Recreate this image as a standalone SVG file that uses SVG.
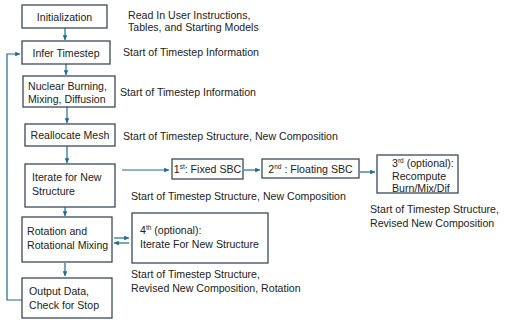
<svg xmlns="http://www.w3.org/2000/svg" width="510" height="320" viewBox="0 0 510 320">
<defs>
<marker id="ah" viewBox="0 0 6 6" refX="6" refY="3" markerWidth="4" markerHeight="4" orient="auto">
<path d="M0,0 L6,3 L0,6 z" fill="#1f6b94"/>
</marker>
<style>
.box{fill:#fff;stroke:#3b4a5a;stroke-width:1.3}
.t{font-family:"Liberation Sans",Arial,sans-serif;font-size:10.6px;fill:#222}
.c{text-anchor:middle}
.s{font-size:6.5px}
.ln{fill:none;stroke:#1f6b94;stroke-width:1.2}
.a{marker-end:url(#ah)}
</style>
</defs>
<rect width="510" height="320" fill="#fff"/>
<g id="connectors">
<line class="ln a" x1="65" y1="28" x2="65" y2="40"/>
<line class="ln a" x1="66" y1="64" x2="66" y2="75"/>
<line class="ln a" x1="67" y1="107" x2="67" y2="123"/>
<line class="ln a" x1="67" y1="146" x2="67" y2="163"/>
<line class="ln a" x1="122" y1="170" x2="169" y2="170"/>
<line class="ln a" x1="244" y1="170" x2="260" y2="170"/>
<line class="ln a" x1="360" y1="172" x2="375" y2="172"/>
<line class="ln a" x1="65" y1="207" x2="65" y2="216"/>
<line class="ln a" x1="114" y1="238" x2="129" y2="238"/>
<line class="ln a" x1="129" y1="243" x2="114" y2="243"/>
<line class="ln a" x1="65" y1="263" x2="65" y2="276"/>
<polyline class="ln a" points="22,300 7,300 7,54 20,54"/>
</g>
<g id="init">
<rect class="box" x="22" y="5" width="85" height="23"/>
<text class="t c" x="64.5" y="20.5">Initialization</text>
</g>
<text class="t" x="128" y="19">Read In User Instructions,</text>
<text class="t" x="128" y="31">Tables, and Starting Models</text>
<g id="infer">
<rect class="box" x="22" y="41" width="88" height="23"/>
<text class="t c" x="66" y="56.5">Infer Timestep</text>
</g>
<text class="t" x="123" y="56">Start of Timestep Information</text>
<g id="nuclear">
<rect class="box" x="23" y="76" width="92" height="31"/>
<text class="t" x="28" y="90">Nuclear Burning,</text>
<text class="t" x="28" y="103">Mixing, Diffusion</text>
</g>
<text class="t" x="120" y="96">Start of Timestep Information</text>
<g id="realloc">
<rect class="box" x="25" y="124" width="90" height="22"/>
<text class="t c" x="70" y="139">Reallocate Mesh</text>
</g>
<text class="t" x="123" y="140">Start of Timestep Structure, New Composition</text>
<g id="iterate">
<rect class="box" x="25" y="164" width="90" height="43"/>
<text class="t" x="32" y="181">Iterate for New</text>
<text class="t" x="32" y="195">Structure</text>
</g>
<g id="fixed">
<rect class="box" x="172" y="159" width="71" height="20"/>
<text class="t c" x="207.5" y="173"><tspan>1</tspan><tspan class="s" dy="-4">st</tspan><tspan dy="4">: Fixed SBC</tspan></text>
</g>
<g id="floating">
<rect class="box" x="262" y="159" width="97" height="19"/>
<text class="t c" x="310.5" y="172.5"><tspan>2</tspan><tspan class="s" dy="-4">nd</tspan><tspan dy="4"> : Floating SBC</tspan></text>
</g>
<text class="t" x="131" y="200">Start of Timestep Structure, New Composition</text>
<g id="third">
<rect class="box" x="377" y="155" width="81" height="38"/>
<text class="t" x="392" y="167"><tspan>3</tspan><tspan class="s" dy="-4">rd</tspan><tspan dy="4"> (optional):</tspan></text>
<text class="t" x="392" y="180">Recompute</text>
<text class="t" x="392" y="192">Burn/Mix/Dif</text>
</g>
<text class="t" x="370" y="213">Start of Timestep Structure,</text>
<text class="t" x="370" y="227">Revised New Composition</text>
<g id="rotation">
<rect class="box" x="22" y="217" width="90" height="45"/>
<text class="t" x="27" y="235">Rotation and</text>
<text class="t" x="27" y="249">Rotational Mixing</text>
</g>
<g id="fourth">
<rect class="box" x="132" y="213" width="136" height="50"/>
<text class="t" x="140" y="234"><tspan>4</tspan><tspan class="s" dy="-4">th</tspan><tspan dy="4">  (optional):</tspan></text>
<text class="t" x="140" y="248">Iterate For New Structure</text>
</g>
<text class="t" x="131" y="278">Start of Timestep Structure,</text>
<text class="t" x="131" y="292">Revised New Composition, Rotation</text>
<g id="output">
<rect class="box" x="22" y="278" width="90" height="40"/>
<text class="t" x="29" y="295">Output Data,</text>
<text class="t" x="29" y="309">Check for Stop</text>
</g>
</svg>
